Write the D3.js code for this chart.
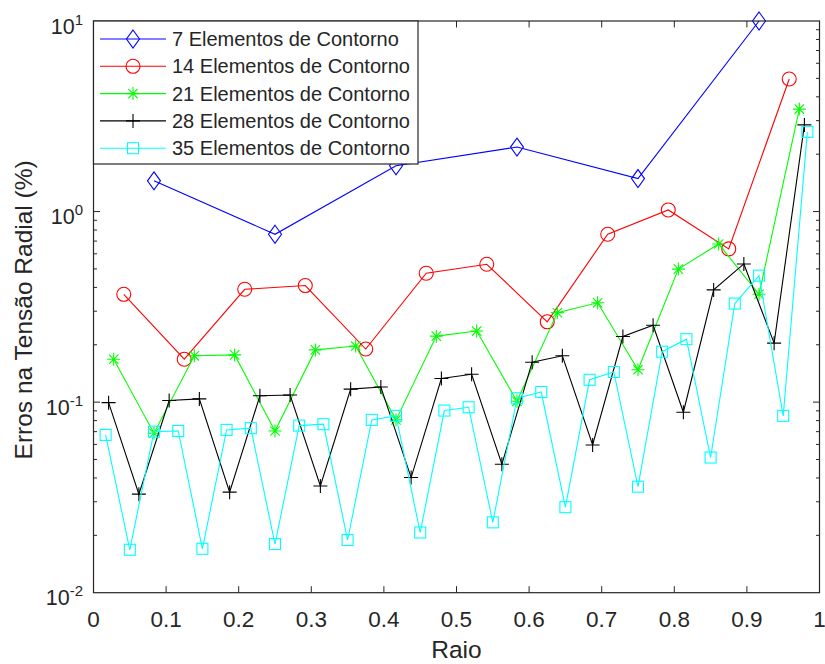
<!DOCTYPE html>
<html>
<head>
<meta charset="utf-8">
<script src="https://cdn.jsdelivr.net/npm/d3@7"></script>
<style>
  html, body { margin: 0; padding: 0; background: #fff; }
  svg { display: block; font-family: "Liberation Sans", Arial, Helvetica, sans-serif; }
</style>
</head>
<body>
<svg id="chart" width="825" height="664"></svg>
<script>
// ---- data ----
const raio7  = [0.0833, 0.25, 0.4167, 0.5833, 0.75, 0.9167];
const erro7  = [1.45, 0.76, 1.74, 2.18, 1.49, 10.0];

const raio14 = [0.0417, 0.125, 0.2083, 0.2917, 0.375, 0.4583, 0.5417, 0.625, 0.7083, 0.7917, 0.875, 0.9583];
const erro14 = [0.368, 0.168, 0.391, 0.409, 0.190, 0.475, 0.529, 0.264, 0.760, 1.02, 0.637, 4.96];

const raio21 = [0.0278, 0.0833, 0.1389, 0.1944, 0.25, 0.3056, 0.3611, 0.4167, 0.4722, 0.5278, 0.5833, 0.6389, 0.6944, 0.75, 0.8056, 0.8611, 0.9167, 0.9722];
const erro21 = [0.168, 0.0687, 0.175, 0.177, 0.0706, 0.188, 0.197, 0.0807, 0.222, 0.236, 0.101, 0.295, 0.332, 0.148, 0.499, 0.676, 0.368, 3.45];

const raio28 = [0.0208, 0.0625, 0.1042, 0.1458, 0.1875, 0.2292, 0.2708, 0.3125, 0.3542, 0.3958, 0.4375, 0.4792, 0.5208, 0.5625, 0.6042, 0.6458, 0.6875, 0.7292, 0.7708, 0.8125, 0.8542, 0.8958, 0.9375, 0.9792];
const erro28 = [0.0994, 0.0329, 0.102, 0.104, 0.0337, 0.108, 0.109, 0.0363, 0.117, 0.120, 0.0402, 0.133, 0.140, 0.0472, 0.162, 0.175, 0.0596, 0.221, 0.253, 0.0885, 0.388, 0.531, 0.204, 2.85];

const raio35 = [0.0167, 0.05, 0.0833, 0.1167, 0.15, 0.1833, 0.2167, 0.25, 0.2833, 0.3167, 0.35, 0.3833, 0.4167, 0.45, 0.4833, 0.5167, 0.55, 0.5833, 0.6167, 0.65, 0.6833, 0.7167, 0.75, 0.7833, 0.8167, 0.85, 0.8833, 0.9167, 0.95, 0.9833];
const erro35 = [0.0673, 0.0168, 0.0700, 0.0706, 0.0170, 0.0715, 0.0730, 0.0180, 0.0753, 0.0766, 0.0189, 0.0807, 0.0847, 0.0207, 0.0903, 0.0940, 0.0234, 0.1048, 0.113, 0.0281, 0.131, 0.144, 0.0360, 0.184, 0.214, 0.0512, 0.329, 0.461, 0.0847, 2.62];

const seriesNames = ["7 Elementos de Contorno", "14 Elementos de Contorno", "21 Elementos de Contorno", "28 Elementos de Contorno", "35 Elementos de Contorno"];
const xTicks = [0, 0.1, 0.2, 0.3, 0.4, 0.5, 0.6, 0.7, 0.8, 0.9, 1];
const yTickExp = [-2, -1, 0, 1];
const xLabel = "Raio";
const yLabel = "Erros na Tensão Radial (%)";

// ---- layout ----
const L = 93.5, R = 819.5, T = 21, B = 592.7;
const axisColor = "#262626";
const svg = d3.select("#chart");

const x = d3.scaleLinear().domain([0, 1]).range([L, R]);
const y = d3.scaleLog().domain([0.01, 10]).range([B, T]);

const series = [
  { name: seriesNames[0], xs: raio7,  ys: erro7,  color: "#0000ff", marker: "diamond" },
  { name: seriesNames[1], xs: raio14, ys: erro14, color: "#ff0000", marker: "circle" },
  { name: seriesNames[2], xs: raio21, ys: erro21, color: "#00ff00", marker: "star" },
  { name: seriesNames[3], xs: raio28, ys: erro28, color: "#000000", marker: "plus" },
  { name: seriesNames[4], xs: raio35, ys: erro35, color: "#00ffff", marker: "square" }
];

function drawMarker(g, type, cx, cy, color) {
  const s = { fill: "none", stroke: color, "stroke-width": 1.1 };
  let el;
  if (type === "diamond") {
    el = g.append("path").attr("d", `M${cx},${cy-9}L${cx+6.5},${cy}L${cx},${cy+9}L${cx-6.5},${cy}Z`);
  } else if (type === "circle") {
    el = g.append("circle").attr("cx", cx).attr("cy", cy).attr("r", 7);
  } else if (type === "square") {
    el = g.append("rect").attr("x", cx-5.5).attr("y", cy-5.5).attr("width", 11).attr("height", 11);
  } else if (type === "plus") {
    el = g.append("path").attr("d", `M${cx-7},${cy}H${cx+7}M${cx},${cy-7}V${cy+7}`);
  } else if (type === "star") {
    const r = 6.5, d = r * 0.72;
    el = g.append("path").attr("d",
      `M${cx-r},${cy}H${cx+r}M${cx},${cy-r}V${cy+r}M${cx-d},${cy-d}L${cx+d},${cy+d}M${cx-d},${cy+d}L${cx+d},${cy-d}`);
  }
  Object.entries(s).forEach(([k, v]) => el.attr(k, v));
}

// ---- axes box with ticks ----
const axes = svg.append("g");
const tickMajor = 6.5, tickMinor = 3.5;

// x ticks (bottom and top, inward)
xTicks.forEach(t => {
  const px = x(t);
  if (t > 0 && t < 1) {
    axes.append("line").attr("x1", px).attr("x2", px).attr("y1", B).attr("y2", B - tickMajor)
      .attr("stroke", axisColor).attr("stroke-width", 1);
    axes.append("line").attr("x1", px).attr("x2", px).attr("y1", T).attr("y2", T + tickMajor)
      .attr("stroke", axisColor).attr("stroke-width", 1);
  }
  axes.append("text").attr("x", px).attr("y", 627).attr("text-anchor", "middle")
    .attr("font-size", 22.5).attr("fill", axisColor).text(d3.format("")(t));
});

// y ticks (major + minor, left and right)
yTickExp.forEach((e, i) => {
  const base = Math.pow(10, e);
  const py = y(base);
  if (i > 0 && i < yTickExp.length - 1) {
    axes.append("line").attr("x1", L).attr("x2", L + tickMajor).attr("y1", py).attr("y2", py)
      .attr("stroke", axisColor).attr("stroke-width", 1);
    axes.append("line").attr("x1", R).attr("x2", R - tickMajor).attr("y1", py).attr("y2", py)
      .attr("stroke", axisColor).attr("stroke-width", 1);
  }
  if (i < yTickExp.length - 1) {
    for (let k = 2; k <= 9; k++) {
      const my = y(base * k);
      axes.append("line").attr("x1", L).attr("x2", L + tickMinor).attr("y1", my).attr("y2", my)
        .attr("stroke", axisColor).attr("stroke-width", 1);
      axes.append("line").attr("x1", R).attr("x2", R - tickMinor).attr("y1", my).attr("y2", my)
        .attr("stroke", axisColor).attr("stroke-width", 1);
    }
  }
  const tx = axes.append("text").attr("x", 83).attr("y", py + 12.5).attr("text-anchor", "end")
    .attr("fill", axisColor).attr("font-size", 21.5);
  tx.append("tspan").text("10");
  tx.append("tspan").attr("font-size", 15).attr("dy", -9).text(e < 0 ? "-" + Math.abs(e) : String(e));
});

// ---- data lines & markers ----
const line = d3.line().x(d => x(d[0])).y(d => y(d[1]));
const plot = svg.append("g");
series.forEach(s => {
  const pts = s.xs.map((v, i) => [v, s.ys[i]]);
  plot.append("path").datum(pts).attr("d", line)
    .attr("fill", "none").attr("stroke", s.color).attr("stroke-width", 1.1);
  const mg = plot.append("g");
  pts.forEach(p => drawMarker(mg, s.marker, x(p[0]), y(p[1]), s.color));
});

// axes box on top
axes.append("rect").attr("x", L).attr("y", T).attr("width", R - L).attr("height", B - T)
  .attr("fill", "none").attr("stroke", axisColor).attr("stroke-width", 1.2);
svg.node().appendChild(axes.node());

// ---- axis labels ----
svg.append("text").attr("x", (L + R) / 2).attr("y", 658).attr("text-anchor", "middle")
  .attr("font-size", 24.5).attr("fill", axisColor).text(xLabel);
svg.append("text").attr("transform", `translate(32,${(T + B) / 2 + 3}) rotate(-90)`)
  .attr("text-anchor", "middle").attr("font-size", 24.5).attr("fill", axisColor).text(yLabel);

// ---- legend ----
const lg = svg.append("g");
lg.append("rect").attr("x", L).attr("y", T).attr("width", 418 - L).attr("height", 164 - T)
  .attr("fill", "#fff").attr("stroke", axisColor).attr("stroke-width", 1.2);
series.forEach((s, i) => {
  const cy = 39 + i * 27.3;
  lg.append("line").attr("x1", 100).attr("x2", 166).attr("y1", cy).attr("y2", cy)
    .attr("stroke", s.color).attr("stroke-width", 1.1);
  drawMarker(lg, s.marker, 133, cy, s.color);
  lg.append("text").attr("x", 172).attr("y", cy + 7).attr("font-size", 20)
    .attr("fill", axisColor).text(s.name);
});
</script>
</body>
</html>
